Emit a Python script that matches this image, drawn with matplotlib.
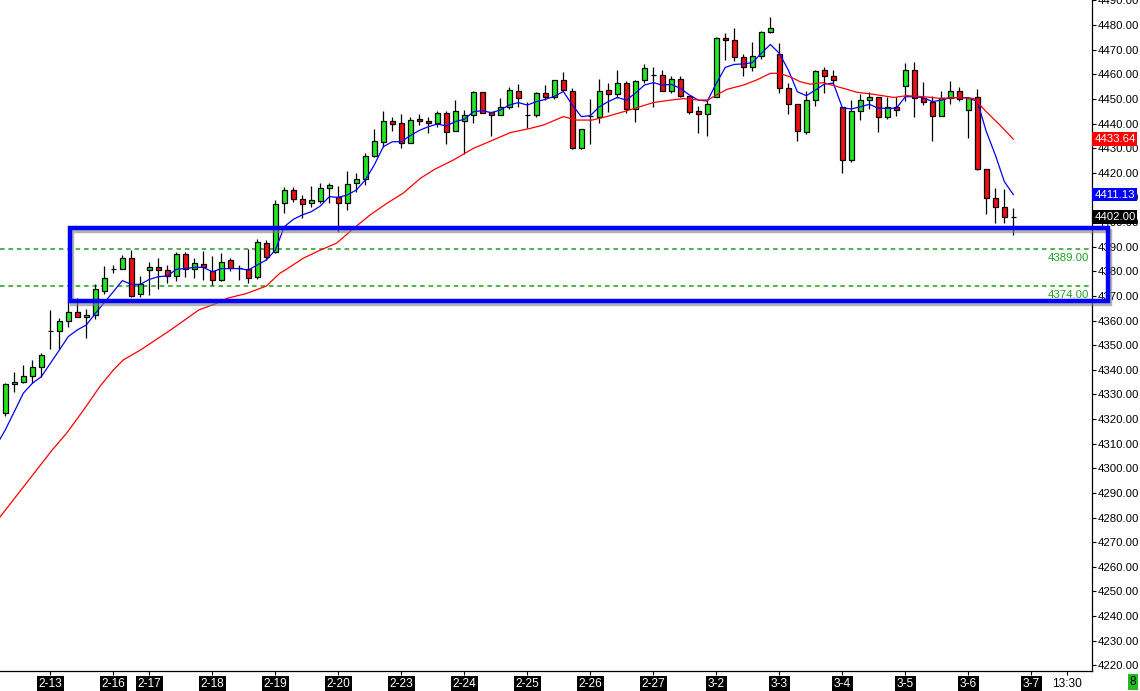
import numpy as np
import matplotlib
matplotlib.use('Agg')
from matplotlib import pyplot as plt, patches, transforms
from matplotlib import patheffects as pe

plt.rcParams.update({'font.family': ['Liberation Sans', 'DejaVu Sans'],
                     'font.size': 8.2})

# OHLC, one bar per entry
opens = [4322.6, 4334.1, 4334.9, 4337.5, 4341.1, 4355.8, 4355.6, 4359.7, 4363.5, 4361.3,
         4362.1, 4372.1, 4380.9, 4380.8, 4385.3, 4370.6, 4380.4, 4381.6, 4380.5, 4378.1,
         4386.9, 4380.8, 4382.8, 4380.3, 4376.3, 4384.6, 4381.2, 4381.1, 4377.8, 4391.4,
         4388.0, 4407.6, 4412.9, 4409.2, 4407.6, 4408.4, 4413.7, 4410.0, 4407.6, 4415.7,
         4417.3, 4426.7, 4432.4, 4440.9, 4440.1, 4431.9, 4441.7, 4440.9, 4440.1, 4444.1,
         4436.8, 4441.2, 4443.3, 4452.7, 4444.5, 4443.3, 4446.6, 4453.1, 4443.5, 4443.3,
         4452.3, 4450.6, 4457.5, 4453.1, 4429.9, 4443.2, 4442.8, 4453.5, 4451.9, 4456.3,
         4445.8, 4457.5, 4459.8, 4459.6, 4453.1, 4457.9, 4451.0, 4444.9, 4443.7, 4450.6,
         4474.6, 4473.8, 4466.9, 4462.8, 4467.3, 4477.0, 4468.2, 4454.3, 4447.8, 4436.4,
         4449.4, 4461.6, 4459.2, 4446.6, 4425.0, 4445.0, 4449.4, 4450.6, 4442.5, 4446.6,
         4455.1, 4461.6, 4450.5, 4448.6, 4442.9, 4450.2, 4453.1, 4445.3, 4450.6, 4421.4,
         4409.6, 4406.2, 4402.2]
highs = [4334.5, 4339.1, 4342.0, 4344.0, 4346.7, 4364.3, 4361.2, 4368.0, 4369.0, 4364.6,
         4374.8, 4382.2, 4382.6, 4386.6, 4388.6, 4378.1, 4383.8, 4385.3, 4382.5, 4387.8,
         4387.8, 4385.3, 4388.2, 4386.3, 4387.6, 4385.3, 4382.6, 4389.0, 4393.2, 4392.7,
         4409.0, 4414.1, 4414.1, 4411.0, 4414.6, 4415.7, 4415.7, 4414.6, 4420.7, 4420.0,
         4427.9, 4437.6, 4445.1, 4442.5, 4443.9, 4442.5, 4443.9, 4442.8, 4445.1, 4445.1,
         4449.5, 4445.5, 4453.2, 4452.9, 4444.8, 4450.5, 4454.8, 4456.0, 4448.9, 4452.9,
         4455.6, 4457.5, 4460.8, 4454.3, 4437.6, 4449.8, 4457.9, 4456.3, 4461.6, 4457.4,
         4457.7, 4464.2, 4463.1, 4461.6, 4459.2, 4459.2, 4451.0, 4447.1, 4449.6, 4475.0,
         4476.6, 4478.6, 4468.2, 4473.0, 4477.4, 4483.1, 4472.6, 4456.3, 4447.8, 4453.1,
         4461.7, 4462.8, 4461.7, 4446.6, 4449.4, 4451.9, 4452.7, 4450.9, 4450.9, 4450.8,
         4464.4, 4464.8, 4456.7, 4451.3, 4453.2, 4457.3, 4454.7, 4450.5, 4453.9, 4421.4,
         4413.7, 4413.4, 4405.6]
lows = [4321.3, 4331.1, 4334.5, 4334.5, 4337.2, 4348.3, 4348.6, 4357.5, 4361.3, 4352.8,
        4360.5, 4370.8, 4379.4, 4380.8, 4369.4, 4369.7, 4370.4, 4372.7, 4375.4, 4376.2,
        4377.6, 4377.4, 4376.5, 4374.3, 4376.1, 4380.3, 4376.5, 4375.1, 4376.7, 4384.6,
        4387.3, 4403.8, 4408.3, 4401.8, 4406.2, 4407.6, 4407.6, 4396.1, 4404.9, 4412.3,
        4414.9, 4426.3, 4430.6, 4437.1, 4430.2, 4431.9, 4439.4, 4436.0, 4438.7, 4431.5,
        4436.8, 4427.5, 4440.1, 4444.1, 4434.9, 4443.3, 4445.8, 4446.6, 4438.0, 4442.5,
        4449.6, 4449.8, 4453.5, 4429.5, 4429.5, 4431.5, 4440.4, 4444.8, 4450.5, 4444.1,
        4440.5, 4456.3, 4446.8, 4453.1, 4452.3, 4450.9, 4443.9, 4436.0, 4435.1, 4450.6,
        4465.8, 4465.5, 4459.4, 4461.5, 4466.1, 4476.6, 4452.5, 4443.7, 4432.8, 4435.6,
        4447.3, 4452.5, 4455.9, 4419.8, 4424.2, 4441.3, 4445.8, 4436.7, 4441.7, 4443.0,
        4449.3, 4442.8, 4447.4, 4433.0, 4442.9, 4447.8, 4449.1, 4434.2, 4421.1, 4403.3,
        4399.7, 4399.7, 4394.7]
closes = [4334.1, 4335.0, 4337.5, 4341.1, 4345.9, 4355.8, 4359.8, 4363.5, 4361.3, 4362.1,
          4372.7, 4377.1, 4380.9, 4385.3, 4369.8, 4374.7, 4381.6, 4380.4, 4378.1, 4386.9,
          4380.8, 4383.2, 4381.6, 4376.3, 4383.6, 4381.5, 4381.2, 4377.1, 4391.9, 4385.9,
          4407.3, 4412.9, 4409.2, 4407.2, 4408.8, 4413.7, 4414.9, 4407.6, 4415.3, 4417.3,
          4426.7, 4432.8, 4440.9, 4439.7, 4431.9, 4441.3, 4440.9, 4440.1, 4444.1, 4436.7,
          4445.2, 4443.3, 4452.7, 4444.1, 4443.3, 4446.6, 4453.5, 4450.2, 4443.5, 4452.3,
          4450.6, 4457.5, 4453.5, 4429.9, 4437.6, 4443.2, 4453.1, 4451.9, 4456.3, 4445.8,
          4457.1, 4462.4, 4459.8, 4453.1, 4457.9, 4451.0, 4444.8, 4443.9, 4447.8, 4474.6,
          4473.8, 4466.9, 4462.8, 4467.3, 4477.0, 4478.6, 4454.3, 4447.8, 4436.8, 4449.4,
          4461.2, 4459.2, 4457.5, 4425.0, 4445.1, 4449.4, 4450.6, 4442.6, 4446.6, 4445.4,
          4461.6, 4450.5, 4448.6, 4442.9, 4450.2, 4453.1, 4450.1, 4450.5, 4421.4, 4409.6,
          4406.2, 4402.2, 4402.0]

# fast moving average (blue), one value per bar, plus value at the left edge
ma_fast_edge = 4311.8
ma_fast = [4315.6, 4323.0, 4330.5, 4334.5, 4337.2, 4342.6, 4348.0, 4353.5, 4356.2, 4358.2,
           4362.9, 4367.3, 4371.7, 4376.2, 4374.7, 4374.7, 4376.7, 4377.8, 4378.1, 4380.8,
           4381.1, 4381.6, 4381.6, 4379.8, 4381.1, 4381.1, 4381.1, 4380.5, 4382.6, 4384.6,
           4388.6, 4398.1, 4401.1, 4402.9, 4404.2, 4406.5, 4410.3, 4410.0, 4411.0, 4413.0,
           4417.1, 4423.2, 4430.6, 4432.6, 4432.6, 4435.1, 4437.2, 4438.7, 4439.8, 4439.0,
           4440.8, 4441.7, 4444.8, 4445.2, 4444.4, 4445.5, 4447.5, 4448.5, 4447.5, 4448.9,
           4449.8, 4451.0, 4453.0, 4447.5, 4442.8, 4443.2, 4446.8, 4448.9, 4450.6, 4449.5,
           4452.3, 4455.6, 4456.6, 4455.6, 4455.9, 4454.3, 4451.6, 4449.5, 4449.1, 4456.3,
           4462.8, 4464.0, 4464.2, 4464.7, 4468.5, 4472.1, 4468.5, 4461.7, 4452.9, 4451.3,
           4453.6, 4456.0, 4456.4, 4446.4, 4445.9, 4446.8, 4447.8, 4446.2, 4446.2, 4446.2,
           4450.9, 4450.9, 4450.5, 4448.9, 4449.5, 4450.5, 4450.5, 4450.5, 4448.9, 4436.7,
           4427.2, 4416.4, 4411.13]

# slow moving average (red), read at bar positions
ma_slow_pos = [-0.6, 5.2, 6.8, 8.7, 10.5, 12.0, 13.1, 15.0, 18.3, 21.5, 23.5, 24.6, 26.8,
               29.0, 30.5, 31.1, 33.1, 35.0, 36.8, 38.7, 40.5, 42.4, 44.2, 46.1, 47.7,
               49.8, 52.0, 54.2, 56.1, 58.3, 59.8, 62.0, 63.5, 65.2, 66.8, 68.7, 70.5,
               72.0, 73.9, 75.3, 77.2, 78.1, 79.0, 80.2, 82.0, 83.5, 85.0, 85.9, 87.2,
               88.3, 89.4, 90.9, 93.1, 94.6, 96.4, 98.7, 100.2, 102.0, 103.9, 105.7,
               107.6, 109.0, 110.5, 112.0]
ma_slow_val = [4280.2, 4307.4, 4314.2, 4323.7, 4333.2, 4339.9, 4344.0, 4348.0, 4356.0,
               4364.3, 4367.0, 4369.0, 4371.0, 4374.0, 4379.2, 4380.5, 4385.3, 4388.6,
               4391.4, 4397.4, 4402.8, 4407.6, 4411.7, 4417.7, 4421.4, 4425.2, 4429.9,
               4433.3, 4436.3, 4438.0, 4439.4, 4442.8, 4441.4, 4441.4, 4442.8, 4444.8,
               4446.8, 4448.5, 4449.5, 4450.1, 4449.5, 4449.6, 4451.6, 4453.9, 4455.6,
               4457.7, 4460.4, 4460.4, 4459.0, 4457.0, 4456.0, 4456.6, 4454.3, 4452.7,
               4451.9, 4450.6, 4451.3, 4450.9, 4450.2, 4450.5, 4450.2, 4444.8, 4439.4,
               4433.64]

levels = [4389.0, 4374.0]
tag_values = [4433.64, 4411.13, 4402.00]
tag_colors = ['#ff0000', '#0000ff', '#000000']

tick_pos = [5, 12, 16, 23, 30, 37, 44, 51, 58, 65, 72, 79, 86, 93, 100, 107, 114, 118]
tick_labels = ['2-13', '2-16', '2-17', '2-18', '2-19', '2-20', '2-23', '2-24', '2-25',
               '2-26', '2-27', '3-2', '3-3', '3-4', '3-5', '3-6', '3-7', '13:30']

green = '#22e822'
red = '#ee1111'

fig = plt.figure(figsize=(11.4, 6.91), dpi=100)
ax = fig.add_axes([0, 0.0289, 0.9579, 0.9711])

o = np.array(opens)
h = np.array(highs)
l = np.array(lows)
c = np.array(closes)
x = np.arange(len(o))
body_col = np.where(c >= o, green, red)

ax.vlines(x, l, h, color='black', lw=0.9, zorder=3)
ax.bar(x, np.abs(c - o), bottom=np.minimum(o, c), width=0.55, color=body_col,
       edgecolor='black', linewidth=0.9, zorder=4)

ax.plot(np.r_[-0.6, x], np.r_[ma_fast_edge, ma_fast], color='#0000ff', lw=0.9, zorder=5)
ax.plot(ma_slow_pos, ma_slow_val, color='#ff0000', lw=0.9, zorder=5)

blend = transforms.blended_transform_factory(ax.transAxes, ax.transData)
for lv in levels:
    ax.axhline(lv, color='#1e9e1e', lw=1.1, ls=(0, (3, 2.5)), zorder=2)
    ax.annotate(f'{lv:.2f}', xy=(1, lv), xycoords=blend, xytext=(-2, -2.5),
                textcoords='offset points', ha='right', va='top', color='#22a022')

# highlighted consolidation box
box = patches.Rectangle((7.19, 4368.1), 115.3, 29.5, fill=False, edgecolor='#0000ff',
                        lw=3.2, clip_on=False, zorder=8,
                        path_effects=[pe.SimpleLineShadow(offset=(1.5, -2.5),
                                                          shadow_color='gray', alpha=0.6),
                                      pe.Normal()])
ax.add_patch(box)

ax.set_xlim(-0.589, 120.74)
ax.set_ylim(4217.7, 4490.15)

for side in ['left', 'top']:
    ax.spines[side].set_visible(False)
ax.spines['right'].set_linewidth(0.9)
ax.spines['bottom'].set_linewidth(0.9)

ax.yaxis.tick_right()
ax.set_yticks(np.arange(4220, 4491, 10))
ax.yaxis.set_major_formatter(plt.FormatStrFormatter('%.2f'))
ax.tick_params(axis='y', length=3, width=0.8, pad=1.2, labelsize=8.2)

ax.set_xticks(tick_pos, tick_labels)
ax.tick_params(axis='x', length=3, width=0.8, pad=2, labelsize=8.6)
for t in ax.get_xticklabels():
    if t.get_text() == '13:30':
        t.set_color('black')
    else:
        t.set_color('white')
        t.set_bbox(dict(facecolor='black', edgecolor='none', pad=1.4))

for val, col in zip(tag_values, tag_colors):
    ax.text(1.002, val, f'{val:.2f}', transform=blend, color='white', ha='left',
            va='center', fontsize=8.2, clip_on=False, zorder=9,
            bbox=dict(facecolor=col, edgecolor='none', pad=1.3))

fig.text(1133 / 1140, 9 / 691, '8', ha='center', va='center', fontsize=8.6,
         bbox=dict(facecolor='#22bb22', edgecolor='none', pad=1.5))

fig.savefig('out.png', dpi=100)
